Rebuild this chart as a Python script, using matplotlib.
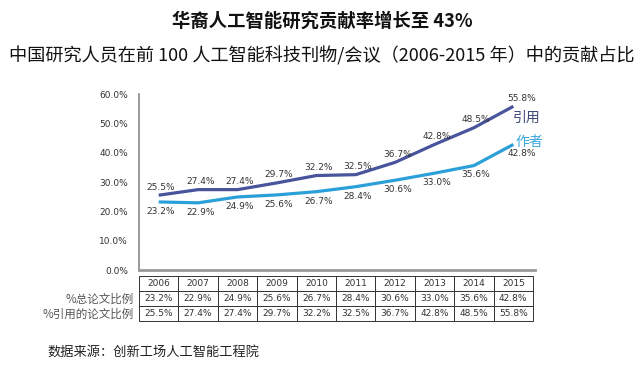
import matplotlib
matplotlib.use("Agg")
import matplotlib.pyplot as plt

plt.rcParams['font.family'] = ['Noto Sans CJK SC', 'DejaVu Sans']

years = ["2006", "2007", "2008", "2009", "2010", "2011", "2012", "2013", "2014", "2015"]
author_share = [23.2, 22.9, 24.9, 25.6, 26.7, 28.4, 30.6, 33.0, 35.6, 42.8]
citation_share = [25.5, 27.4, 27.4, 29.7, 32.2, 32.5, 36.7, 42.8, 48.5, 55.8]
row_labels = ["%总论文比例", "%引用的论文比例"]
series_names = ["引用", "作者"]
y_ticks = [0, 10, 20, 30, 40, 50, 60]

title = "华裔人工智能研究贡献率增长至 43%"
subtitle = "中国研究人员在前 100 人工智能科技刊物/会议（2006-2015 年）中的贡献占比"
source = "数据来源：创新工场人工智能工程院"

dark_blue = "#48549c"
light_blue = "#2b9fd8"

W, H = 640, 365
fig = plt.figure(figsize=(W / 100, H / 100), dpi=100)
fig.patch.set_facecolor("white")

def fx(px):
    return px / W

def fy(py):
    return 1 - py / H

left, right, top, bottom = 139, 535, 94, 270
ax = fig.add_axes([fx(left), fy(bottom), fx(right - left), (bottom - top) / H])
ax.set_xlim(0, 10.05)
ax.set_ylim(0, 60)

xs = [i + 0.5 for i in range(len(years))]
ax.plot(xs, citation_share, color=dark_blue, lw=2.3, solid_capstyle="butt", zorder=3)
ax.plot(xs, author_share, color=light_blue, lw=2.3, solid_capstyle="butt", zorder=3)

for i, (x, c, a) in enumerate(zip(xs, citation_share, author_share)):
    dx = 6 if i == 9 else 1.5
    ax.annotate(f"{c:.1f}%", (x, c), xytext=(dx, 2.5), textcoords="offset points",
                ha="center", va="bottom", fontsize=6.5, color="#333333", family="DejaVu Sans")
    ax.annotate(f"{a:.1f}%", (x, a), xytext=(dx, -3.5), textcoords="offset points",
                ha="center", va="top", fontsize=6.5, color="#333333", family="DejaVu Sans")

def px_to_data(px, py):
    return ((px - left) / (right - left) * 10.05, (bottom - py) / (bottom - top) * 60)

lx, ly = px_to_data(513, 118)
ax.text(lx, ly, series_names[0], color="#3f4a78", fontsize=10, ha="left", va="center")
lx, ly = px_to_data(515, 142)
ax.text(lx, ly, series_names[1], color="#3aa8dc", fontsize=10, ha="left", va="center")

ax.set_yticks(y_ticks)
ax.set_yticklabels([f"{v:.1f}%" for v in y_ticks], fontsize=6.5, color="#333333", family="DejaVu Sans")
ax.tick_params(axis="y", length=0, pad=8)
ax.set_xticks([])
for s in ["top", "right"]:
    ax.spines[s].set_visible(False)
ax.spines["left"].set_color("#888888")
ax.spines["left"].set_linewidth(1.2)
ax.spines["bottom"].set_color("#999999")
ax.spines["bottom"].set_linewidth(2)

# table
cell_text = [years,
             [f"{v:.1f}%" for v in author_share],
             [f"{v:.1f}%" for v in citation_share]]
tab_top, tab_bottom, tab_right = 276, 321, 533
tab = ax.table(cellText=cell_text, cellLoc="center",
               bbox=[0, (bottom - tab_bottom) / (bottom - top),
                     (tab_right - left) / (right - left),
                     (tab_bottom - tab_top) / (bottom - top)])
tab.auto_set_font_size(False)
for (r, c), cell in tab.get_celld().items():
    cell.set_edgecolor("#333333")
    cell.set_linewidth(0.7)
    cell.get_text().set_fontsize(6.5)
    cell.get_text().set_color("#333333")
    cell.get_text().set_family("DejaVu Sans")

row_y = [299, 314]
for lab, yy in zip(row_labels, row_y):
    fig.text(fx(134), fy(yy), lab, ha="right", va="center", fontsize=8.3, color="#555555")

fig.text(fx(322), fy(21), title, ha="center", va="center", fontsize=13.2, fontweight="bold", color="#111111")
fig.text(fx(322), fy(56), subtitle, ha="center", va="center", fontsize=13.1, color="#111111")
fig.text(fx(47), fy(353), source, ha="left", va="center", fontsize=9.5, color="#222222")

fig.savefig("out.png", dpi=100)
